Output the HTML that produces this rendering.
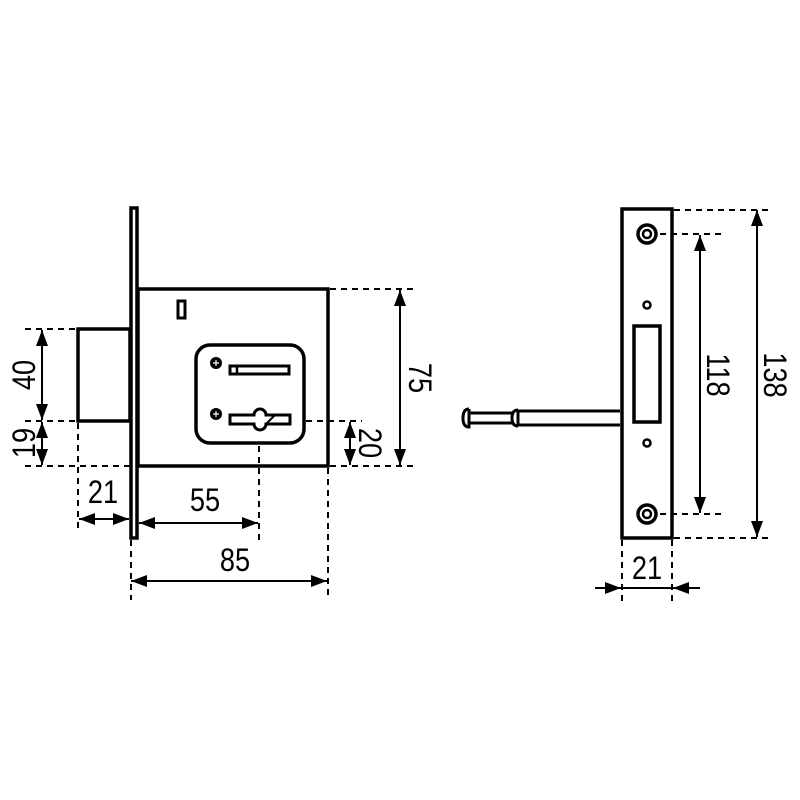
<!DOCTYPE html>
<html><head><meta charset="utf-8"><style>html,body{margin:0;padding:0;background:#fff}svg{display:block}text{font-family:"Liberation Sans","DejaVu Sans",sans-serif;font-size:32px;fill:#000}</style></head>
<body>
<svg width="800" height="800" viewBox="0 0 800 800" xmlns="http://www.w3.org/2000/svg">
<defs>
<marker id="a" viewBox="0 0 16 12" refX="16" refY="6" markerWidth="16" markerHeight="12" markerUnits="userSpaceOnUse" orient="auto-start-reverse"><path d="M0,0 L16,6 L0,12 Z" fill="#000"/></marker>
</defs>
<g fill="none" stroke="#000" stroke-width="3.5">
<rect x="131" y="208" width="6" height="330" fill="#fff"/>
<rect x="138" y="289" width="190" height="177"/>
<rect x="78" y="329" width="52" height="92"/>
<rect x="178" y="301" width="7" height="17" stroke-width="3"/>
<rect x="196" y="345" width="108" height="98" rx="14"/>
<rect x="230" y="366" width="59" height="8" stroke-width="3"/>
<line x1="237" y1="366" x2="237" y2="374" stroke-width="2.5"/>
<path d="M230,415 H254 A6,6 0 1 1 266,415 H290 V424 H266 A6,6 0 1 1 254,424 H230 Z" stroke-width="3"/>
<line x1="266" y1="424" x2="275" y2="415" stroke-width="2"/>
<rect x="622" y="209" width="50" height="329"/>
<circle cx="647" cy="234" r="9"/><circle cx="647" cy="234" r="4" stroke-width="2.5"/>
<circle cx="647" cy="514" r="9"/><circle cx="647" cy="514" r="4" stroke-width="2.5"/>
<circle cx="647" cy="305" r="3.5" stroke-width="2.5"/>
<circle cx="647" cy="443" r="3.5" stroke-width="2.5"/>
<rect x="634" y="326" width="26" height="96"/>
<path d="M620,411 H518 M620,425 H518 M518,410 V426 M518,410 q-6,0 -6,8 q0,8 6,8" stroke-width="3"/>
<path d="M512,413 H469 M512,423 H469 M469,409 q-6,0 -6,9 q0,9 6,9 V409" stroke-width="3"/>
</g>
<g fill="#000"><circle cx="216" cy="363" r="6"/><circle cx="216" cy="414" r="6"/></g>
<g stroke="#fff" stroke-width="1.2"><path d="M213,363 H219 M216,360 V366 M213,414 H219 M216,411 V417"/></g>
<g stroke="#000" stroke-width="2" stroke-dasharray="6,5" fill="none">
<path d="M25,329 H76 M25,421 H76 M25,466 H130 M78,423 V530 M259,446 V545 M131,540 V600 M328,468 V600 M330,289 H416 M330,466 H416 M306,421 H362"/>
<path d="M674,210 H770 M660,234 H725 M660,514 H725 M674,538 H770 M622,540 V602 M672,540 V602"/>
</g>
<g stroke="#000" stroke-width="2" fill="none">
<line x1="42" y1="330" x2="42" y2="420" marker-start="url(#a)" marker-end="url(#a)"/>
<line x1="42" y1="422" x2="42" y2="465" marker-start="url(#a)" marker-end="url(#a)"/>
<line x1="79" y1="519" x2="129" y2="519" marker-start="url(#a)" marker-end="url(#a)"/>
<line x1="139" y1="523" x2="258" y2="523" marker-start="url(#a)" marker-end="url(#a)"/>
<line x1="131" y1="581" x2="327" y2="581" marker-start="url(#a)" marker-end="url(#a)"/>
<line x1="400" y1="290" x2="400" y2="465" marker-start="url(#a)" marker-end="url(#a)"/>
<line x1="350" y1="422" x2="350" y2="465" marker-start="url(#a)" marker-end="url(#a)"/>
<line x1="700" y1="235" x2="700" y2="513" marker-start="url(#a)" marker-end="url(#a)"/>
<line x1="757" y1="210" x2="757" y2="537" marker-start="url(#a)" marker-end="url(#a)"/>
<line x1="595" y1="588" x2="621" y2="588" marker-end="url(#a)"/>
<line x1="700" y1="588" x2="673" y2="588" marker-end="url(#a)"/>
<line x1="622" y1="588" x2="672" y2="588"/>
</g>
<g>
<text transform="translate(103,503) scale(0.85,1)" text-anchor="middle">21</text>
<text transform="translate(205,511) scale(0.85,1)" text-anchor="middle">55</text>
<text transform="translate(235,571) scale(0.85,1)" text-anchor="middle">85</text>
<text transform="translate(647,579) scale(0.85,1)" text-anchor="middle">21</text>
<text transform="translate(35,375) rotate(-90) scale(0.85,1)" text-anchor="middle">40</text>
<text transform="translate(35,443) rotate(-90) scale(0.85,1)" text-anchor="middle">19</text>
<text transform="translate(409,378) rotate(90) scale(0.85,1)" text-anchor="middle">75</text>
<text transform="translate(359,443) rotate(90) scale(0.85,1)" text-anchor="middle">20</text>
<text transform="translate(707,375) rotate(90) scale(0.85,1)" text-anchor="middle">118</text>
<text transform="translate(764,375) rotate(90) scale(0.85,1)" text-anchor="middle">138</text>
</g>
</svg>
</body></html>
